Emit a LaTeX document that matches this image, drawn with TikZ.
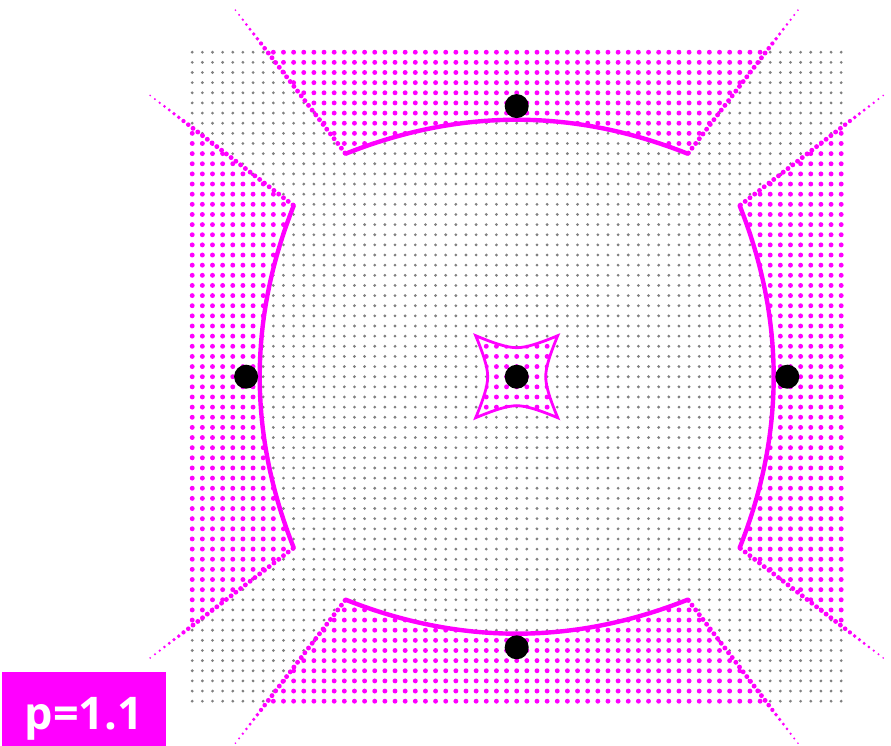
\documentclass[tikz,border=0pt]{standalone}
\usepackage{fontspec}
\newfontfamily\labelfont{Open Sans}
\definecolor{mag}{RGB}{255,0,255}
\definecolor{gdot}{RGB}{128,128,128}
\tikzset{
  curveline/.style={draw=mag, line width=4.4pt, line cap=round, line join=round},
  starline/.style={draw=mag, line width=2.8pt, line join=miter},
  site/.style={fill=black},
  starpath/.style={},
}
\def\starshape{(-41,41) .. controls (-24,34) and (-10,29) .. (0,29) .. controls (10,29) and (24,34) .. (41,41)
  .. controls (34,24) and (29,10) .. (29,0) .. controls (29,-10) and (34,-24) .. (41,-41)
  .. controls (24,-34) and (10,-29) .. (0,-29) .. controls (-10,-29) and (-24,-34) .. (-41,-41)
  .. controls (-34,-24) and (-29,-10) .. (-29,0) .. controls (-29,10) and (-34,24) .. (-41,41) -- cycle}
\begin{document}
\begin{tikzpicture}[x=1pt,y=-1pt]
\useasboundingbox (0,0) rectangle (891,745);
\begin{scope}[shift={(516.7,376.7)}, yscale=-1]
  % gray grid
  \foreach \j in {-32,...,32}{
    \fill[gdot] \foreach \i in {-32,...,32}{ (\i*10.14,\j*10.14) circle (1.55) };
  }
  % magenta outer regions
  \foreach \a in {0,90,180,270}{
    \begin{scope}[rotate=\a]
      \clip (-171,223) .. controls (-57,268.3) and (57,268.3) .. (171,223) -- (52.5:640) -- (127.5:640) -- cycle;
      \foreach \j in {15,...,32}{
        \fill[mag] \foreach \i in {-32,...,32}{ (\i*10.14,\j*10.14) circle (2.45) };
      }
    \end{scope}
  }
  % central star
  \begin{scope}
    \clip \starshape;
    \foreach \j in {-4,...,4}{
      \fill[mag] \foreach \i in {-4,...,4}{ (\i*10.14,\j*10.14) circle (2.45) };
    }
  \end{scope}
  \path[starline] \starshape;
  % boundary curves
  \foreach \a in {0,90,180,270}{
    \path[curveline, rotate=\a] (-171,223) .. controls (-57,268.3) and (57,268.3) .. (171,223);
  }
  % dotted rays
  \foreach \a in {37.5,52.5,127.5,142.5,217.5,232.5,307.5,322.5}{
    \foreach \r in {282,288,...,462}{
      \pgfmathsetmacro\rad{\r<409 ? 2.45 : 2.45-1.5*(\r-409)/53}
      \fill[mag] (\a:\r) circle (\rad);
    }
  }
  % sites
  \fill[site] (0,0) circle (12);
  \fill[site] (0,270.6) circle (12);
  \fill[site] (0,-270.6) circle (12);
  \fill[site] (270.6,0) circle (12);
  \fill[site] (-270.6,0) circle (12);
\end{scope}
% label
\fill[mag] (2,672) rectangle (166,748);
\node[font=\labelfont\bfseries\fontsize{45}{45}\selectfont, text=white, anchor=base, inner sep=0pt] (lbl) at (84,729) {p=1.1};
\end{tikzpicture}
\end{document}
